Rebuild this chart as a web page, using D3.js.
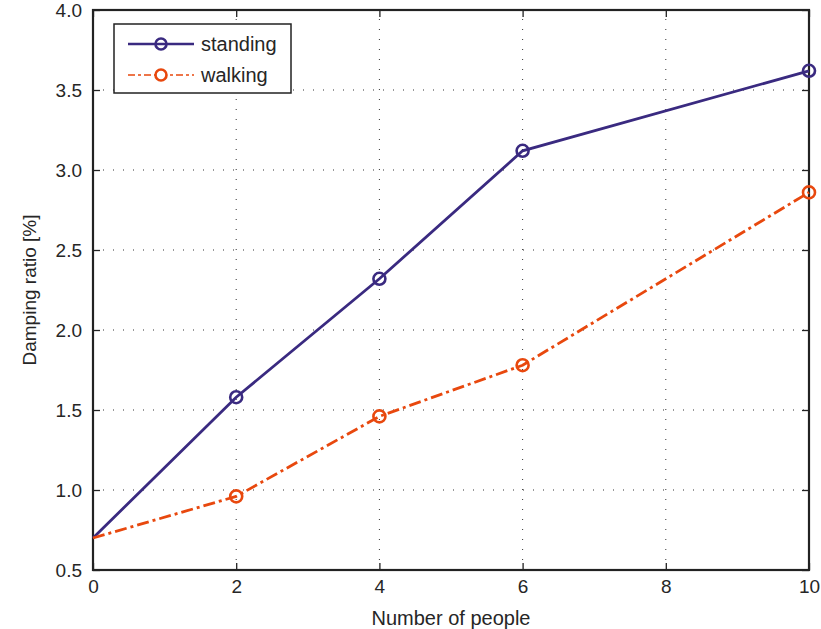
<!DOCTYPE html>
<html><head><meta charset="utf-8">
<script src="https://cdn.jsdelivr.net/npm/d3@7"></script>
<style>body{margin:0;background:#fff}svg{display:block}text{font-family:"Liberation Sans",Arial,sans-serif;fill:#262626}</style>
</head><body><div id="c"></div>
<script>
const people = [0, 2, 4, 6, 10];
const standing = [0.70, 1.58, 2.32, 3.12, 3.62];
const walking = [0.70, 0.96, 1.46, 1.78, 2.86];
const xTicks = [0, 2, 4, 6, 8, 10];
const yTicks = [0.5, 1.0, 1.5, 2.0, 2.5, 3.0, 3.5, 4.0];
const seriesNames = ["standing", "walking"];
const colors = ["#3a2a80", "#e8480e"];

const W = 821, H = 629;
const m = {l: 93, r: 12, t: 10, b: 59};
const svg = d3.select("#c").append("svg").attr("width", W).attr("height", H);
const x = d3.scaleLinear().domain([0, 10]).range([m.l, W - m.r]);
const y = d3.scaleLinear().domain([0.5, 4.0]).range([H - m.b, m.t]);
const x0 = x(0), x1 = x(10), y0 = y(0.5), y1 = y(4.0);

// grid
const g = svg.append("g");
g.selectAll(".vg").data(xTicks.slice(1, -1)).join("line")
  .attr("x1", d => x(d)).attr("x2", d => x(d)).attr("y1", y0).attr("y2", y1)
  .attr("stroke", "#333").attr("stroke-width", 1).attr("stroke-dasharray", "1,9");
g.selectAll(".hg").data(yTicks.slice(1, -1)).join("line")
  .attr("y1", d => y(d)).attr("y2", d => y(d)).attr("x1", x0).attr("x2", x1)
  .attr("stroke", "#333").attr("stroke-width", 1).attr("stroke-dasharray", "1,9");

// axes via d3 axis (inward ticks)
const fmt = d3.format(".1f");
const ax = svg.append("g").attr("transform", `translate(0,${y0})`)
  .call(d3.axisBottom(x).tickValues(xTicks).tickSize(-7).tickPadding(10).tickFormat(d3.format("d")));
const ay = svg.append("g").attr("transform", `translate(${x0},0)`)
  .call(d3.axisLeft(y).tickValues(yTicks).tickSize(-7).tickPadding(11).tickFormat(fmt));
const axt = svg.append("g").attr("transform", `translate(0,${y1})`)
  .call(d3.axisTop(x).tickValues(xTicks).tickSize(-7).tickFormat(""));
const ayr = svg.append("g").attr("transform", `translate(${x1},0)`)
  .call(d3.axisRight(y).tickValues(yTicks).tickSize(-7).tickFormat(""));
[ax, ay, axt, ayr].forEach(a => {
  a.select(".domain").remove();
  a.selectAll("line").attr("stroke", "#222").attr("stroke-width", 1.3);
  a.selectAll("text").attr("font-size", 19).attr("fill", "#262626")
    .attr("font-family", '"Liberation Sans",Arial,sans-serif');
});
svg.append("rect").attr("x", x0).attr("y", y1).attr("width", x1 - x0).attr("height", y0 - y1)
  .attr("fill", "none").attr("stroke", "#222").attr("stroke-width", 2.2);

// lines
const line = d3.line().x(d => x(d[0])).y(d => y(d[1]));
const data = [standing, walking].map(s => people.map((p, i) => [p, s[i]]));
const dashes = [null, "12,4,3,4"];
data.forEach((d, k) => {
  svg.append("path").attr("d", line(d)).attr("fill", "none").attr("stroke", colors[k])
    .attr("stroke-width", 2.8).attr("stroke-dasharray", dashes[k]);
  svg.selectAll(null).data(d.slice(1)).join("circle")
    .attr("cx", p => x(p[0])).attr("cy", p => y(p[1])).attr("r", 6)
    .attr("fill", "none").attr("stroke", colors[k]).attr("stroke-width", 2.6);
});

// legend
const lg = svg.append("g");
lg.append("rect").attr("x", 114).attr("y", 24).attr("width", 177).attr("height", 69)
  .attr("fill", "#fff").attr("stroke", "#222").attr("stroke-width", 1.5);
seriesNames.forEach((n, k) => {
  const yy = 44 + k * 31;
  lg.append("line").attr("x1", 128).attr("x2", 194).attr("y1", yy).attr("y2", yy)
    .attr("stroke", colors[k]).attr("stroke-width", k ? 1.6 : 2.4).attr("stroke-dasharray", dashes[k] ? "7,3,3,3" : null);
  lg.append("circle").attr("cx", 161).attr("cy", yy).attr("r", 5.5).attr("fill", k ? "#fff" : "none")
    .attr("stroke", colors[k]).attr("stroke-width", 2.6);
  lg.append("text").attr("x", 201).attr("y", yy + 7).attr("font-size", 20).text(n);
});

// axis titles
svg.append("text").attr("x", (x0 + x1) / 2).attr("y", 625).attr("text-anchor", "middle")
  .attr("font-size", 20).text("Number of people");
svg.append("text").attr("transform", `translate(36,${(y0 + y1) / 2}) rotate(-90)`)
  .attr("text-anchor", "middle").attr("font-size", 19).text("Damping ratio [%]");
</script></body></html>
